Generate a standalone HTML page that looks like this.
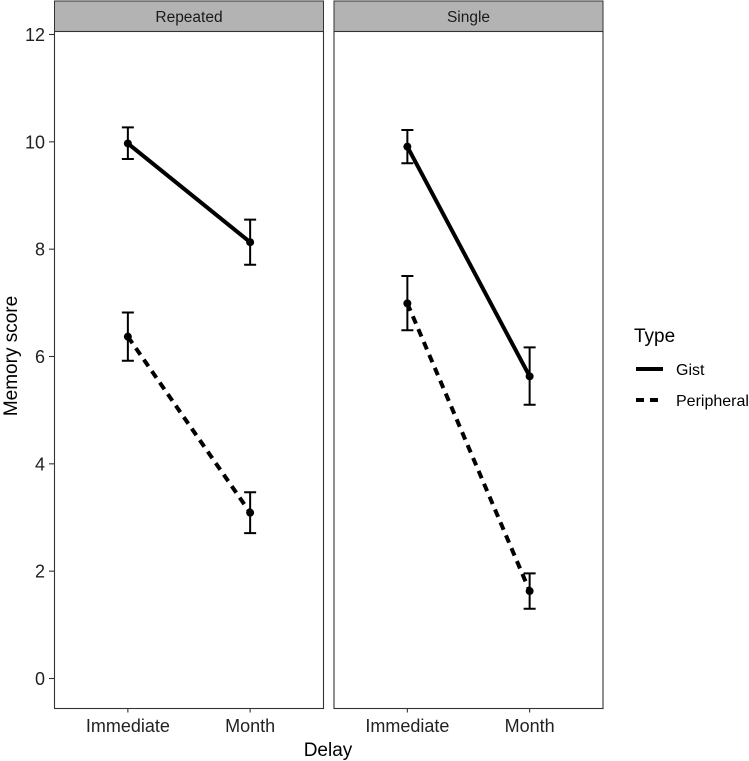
<!DOCTYPE html>
<html><head><meta charset="utf-8"><style>
body{margin:0;background:#fff;}
svg{display:block;font-family:"Liberation Sans",Arial,sans-serif;}
</style></head><body>
<svg id="chart" width="749" height="761" xmlns="http://www.w3.org/2000/svg"></svg>
<script>
const panels = ["Repeated", "Single"];
const categories = ["Immediate", "Month"];
const yTicks = [0, 2, 4, 6, 8, 10, 12];
const gistMean = [[9.97, 8.13], [9.91, 5.63]];
const gistLo = [[9.68, 7.71], [9.60, 5.10]];
const gistHi = [[10.27, 8.55], [10.22, 6.17]];
const periMean = [[6.37, 3.09], [6.99, 1.63]];
const periLo = [[5.92, 2.71], [6.49, 1.30]];
const periHi = [[6.82, 3.47], [7.50, 1.96]];

const NS = "http://www.w3.org/2000/svg";
const svg = document.getElementById("chart");
function mk(tag, attrs, parent) {
  const e = document.createElementNS(NS, tag);
  for (const k in attrs) e.setAttribute(k, attrs[k]);
  (parent || svg).appendChild(e);
  return e;
}
const plotTop = 31.5, plotBottom = 708.5;
const y = v => 678.5 - v * (644 / 12);
const panelX = [54.5, 334];
const panelW = 269;
const x = (p, i) => panelX[p] + panelW * (0.6 + i) / 2.2;

panels.forEach((name, p) => {
  const g = mk("g", {});
  
  
  const strip = mk("rect", {x: panelX[p], y: 1, width: panelW, height: 30.5, fill: "#b3b3b3", stroke: "#333", "stroke-width": 1}, g);
  
  
  const st = mk("text", {x: panelX[p] + panelW / 2, y: 22, "text-anchor": "middle", "font-size": 15.5, fill: "#1a1a1a"}, g);
  st.textContent = name;
  
  
  const bg = mk("rect", {x: panelX[p], y: plotTop, width: panelW, height: plotBottom - plotTop, fill: "#fff", stroke: "#333", "stroke-width": 1.1}, g);
  
  
  categories.forEach((c, i) => {
    mk("line", {x1: x(p, i), x2: x(p, i), y1: plotBottom, y2: plotBottom + 4, stroke: "#333", "stroke-width": 1.1}, g);
    const t = mk("text", {x: x(p, i), y: 732, "text-anchor": "middle", "font-size": 18, fill: "#222"}, g);
    t.textContent = c;
    
    
  });
  [[gistMean, gistLo, gistHi, "gist", ""], [periMean, periLo, periHi, "peripheral", "8,6"]].forEach(([m, lo, hi, nm, dash]) => {
    const ln = mk("line", {x1: x(p, 0), y1: y(m[p][0]), x2: x(p, 1), y2: y(m[p][1]), stroke: "#000", "stroke-width": 4, "stroke-dasharray": dash}, g);
    
    
    categories.forEach((c, i) => {
      const cx = x(p, i);
      const eb = mk("path", {d: `M${cx - 6},${y(hi[p][i])}H${cx + 6}M${cx},${y(hi[p][i])}V${y(lo[p][i])}M${cx - 6},${y(lo[p][i])}H${cx + 6}`, stroke: "#000", "stroke-width": 2, fill: "none"}, g);
      
      
      const pt = mk("circle", {cx: cx, cy: y(m[p][i]), r: 4, fill: "#000"}, g);
      
      
    });
  });
});
yTicks.forEach(v => {
  mk("line", {x1: 49, x2: 54.5, y1: y(v), y2: y(v), stroke: "#333", "stroke-width": 1.1});
  const t = mk("text", {x: 45, y: y(v) + 6.5, "text-anchor": "end", "font-size": 18, fill: "#222"});
  t.textContent = v;
  
  
});
const xt = mk("text", {x: 328, y: 756, "text-anchor": "middle", "font-size": 19, fill: "#000"});
xt.textContent = "Delay";


const yt = mk("text", {x: 0, y: 0, transform: "translate(17,356) rotate(-90)", "text-anchor": "middle", "font-size": 19, fill: "#000"});
yt.textContent = "Memory score";


const lg = mk("g", {});


const lt = mk("text", {x: 634, y: 342, "font-size": 19, fill: "#000"}, lg);
lt.textContent = "Type";
[["Gist", "", 369], ["Peripheral", "8,6", 400]].forEach(([lab, dash, yy]) => {
  const e = mk("g", {}, lg);
  
  
  mk("line", {x1: 636, x2: 663, y1: yy, y2: yy, stroke: "#000", "stroke-width": 4, "stroke-dasharray": dash}, e);
  const t = mk("text", {x: 676, y: yy + 6, "font-size": 16, fill: "#000"}, e);
  t.textContent = lab;
});
</script>
</body></html>
